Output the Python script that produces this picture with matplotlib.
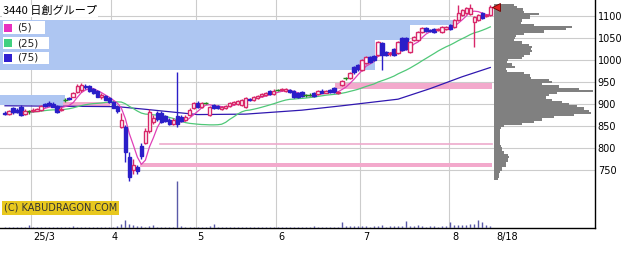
import matplotlib
matplotlib.use('Agg')
import matplotlib.pyplot as plt
from matplotlib.patches import Rectangle
import numpy as np
import pandas as pd

title = "3440 日創グループ"
copyright_text = "(C) KABUDRAGON.COM"

# daily candles, late Feb 2025 .. 8/18
opens = [880, 877, 890, 887, 894, 877, 883, 884, 885, 887,
         899, 903, 901, 896, 886, 909, 913, 917, 927, 931,
         942, 940, 933, 929, 915, 919, 914, 905, 893, 848,
         848, 780, 750, 756, 805, 812, 838, 860, 880, 880,
         872, 864, 855, 873, 870, 864, 875, 891, 902, 893,
         902, 875, 898, 895, 889, 890, 896, 900, 900, 898,
         893, 911, 909, 914, 918, 920, 930, 923, 932, 932,
         930, 932, 930, 925, 927, 920, 921, 925, 923, 930,
         926, 932, 936, 925, 943, 958, 958, 984, 989, 978,
         993, 1007, 1010, 1011, 1038, 1018, 1013, 1025, 1016, 1050,
         1050, 1018, 1045, 1045, 1064, 1073, 1068, 1070, 1068, 1064,
         1070, 1080, 1075, 1091, 1102, 1107, 1105, 1086, 1091, 1107,
         1100, 1102]
highs = [884, 886, 894, 890, 898, 888, 887, 890, 892, 898,
         903, 906, 904, 898, 893, 913, 916, 927, 945, 948,
         946, 943, 936, 931, 926, 921, 916, 907, 897, 880,
         852, 790, 775, 762, 812, 846, 888, 875, 884, 884,
         875, 868, 868, 973, 874, 874, 890, 904, 906, 905,
         905, 896, 901, 897, 896, 898, 904, 907, 909, 911,
         916, 914, 918, 920, 924, 927, 932, 933, 935, 937,
         936, 935, 932, 927, 929, 923, 924, 927, 932, 933,
         932, 935, 938, 930, 955, 962, 972, 987, 992, 1002,
         1009, 1010, 1012, 1043, 1042, 1021, 1019, 1028, 1043, 1052,
         1053, 1043, 1054, 1066, 1075, 1076, 1070, 1072, 1073, 1077,
         1077, 1082, 1093, 1125, 1116, 1120, 1127, 1100, 1104, 1110,
         1104, 1125]
lows = [875, 875, 878, 879, 873, 874, 878, 881, 883, 884,
        893, 895, 893, 879, 883, 905, 908, 915, 925, 928,
        934, 928, 922, 915, 912, 908, 902, 890, 879, 845,
        768, 725, 740, 741, 775, 808, 835, 855, 862, 857,
        858, 852, 852, 848, 858, 861, 872, 889, 890, 891,
        899, 872, 889, 888, 887, 888, 894, 898, 898, 896,
        891, 906, 907, 912, 916, 918, 921, 921, 929, 930,
        928, 925, 914, 914, 915, 917, 918, 916, 921, 924,
        924, 925, 925, 923, 940, 954, 956, 968, 975, 975,
        990, 994, 998, 1008, 977, 1010, 1010, 1010, 1014, 1020,
        1023, 1016, 1043, 1043, 1061, 1064, 1064, 1062, 1066, 1062,
        1068, 1068, 1073, 1089, 1100, 1105, 1103, 1030, 1089, 1094,
        1098, 1100]
closes = [878, 883, 881, 882, 876, 885, 883, 887, 889, 896,
          896, 897, 894, 882, 889, 909, 911, 925, 940, 943,
          938, 930, 925, 917, 921, 910, 904, 892, 884, 864,
          790, 733, 762, 747, 782, 838, 882, 868, 866, 860,
          862, 855, 864, 855, 862, 871, 887, 902, 893, 902,
          902, 893, 891, 891, 893, 895, 902, 904, 906, 909,
          914, 909, 916, 918, 922, 925, 923, 930, 932, 934,
          933, 928, 916, 916, 918, 920, 921, 918, 930, 926,
          930, 927, 927, 928, 952, 958, 970, 972, 980, 1000,
          1007, 996, 1000, 1041, 1012, 1012, 1016, 1012, 1041, 1023,
          1025, 1041, 1052, 1064, 1073, 1066, 1066, 1064, 1071, 1075,
          1075, 1070, 1091, 1107, 1114, 1118, 1118, 1098, 1102, 1096,
          1102, 1120]
volumes = [2, 2, 3, 2, 2, 3, 6, 2, 2, 2,
           2, 2, 2, 2, 3, 2, 3, 4, 3, 2,
           2, 2, 3, 2, 2, 3, 2, 3, 5, 8,
           18, 9, 7, 4, 4, 3, 4, 7, 3, 2,
           3, 2, 3, 100, 4, 3, 2, 3, 2, 2,
           3, 4, 9, 3, 2, 2, 2, 2, 2, 3,
           2, 2, 2, 2, 2, 2, 2, 2, 2, 2,
           2, 2, 2, 2, 2, 2, 3, 4, 3, 3,
           2, 2, 3, 3, 13, 5, 5, 5, 4, 5,
           4, 3, 5, 4, 7, 3, 4, 5, 5, 4,
           15, 5, 4, 6, 4, 3, 4, 4, 3, 5,
           4, 12, 7, 7, 7, 6, 8, 9, 17, 12,
           6, 4]

# 75-day average
ma75_idx = [0, 28, 35, 48, 60, 74, 84, 98, 106, 114, 121]
ma75_val = [896, 894, 888, 876, 877, 886, 896, 911, 935, 962, 983]

# price-by-volume profile, top bin 1125, 5 yen steps
prof_widths = [20, 23, 29, 30, 45, 36, 36, 28, 27, 40,
               78, 72, 50, 30, 22, 21, 20, 28, 35, 38,
               37, 38, 36, 30, 28, 14, 13, 18, 21, 12,
               13, 30, 36, 37, 55, 58, 48, 65, 85, 99,
               63, 55, 52, 58, 68, 75, 83, 90, 95, 97,
               80, 60, 48, 40, 28, 10, 7, 6, 6, 6,
               6, 6, 6, 6, 7, 8, 8, 10, 14, 15,
               14, 14, 12, 12, 8, 8, 6, 5, 5, 4]

# zones (index range, price range)
blue_zone_edges = [-1.5, 92.3, 101.0, 112.0]
blue_zone_bottom = [977, 1045, 1080]
blue_zone_top = 1091
blue_left = (-1.5, 15.0, 898, 920)
pink_zones = [(14.5, 26.2, 893, 905), (82.3, 121.3, 935, 947), (33.7, 121.3, 757, 766)]
pink_line = (38.7, 121.3, 809)

month_grid = [6.4, 26.4, 47.5, 67.6, 88.6, 110.6]
label_pos = [9.7, 27.4, 48.6, 68.8, 90.0, 112.2, 125.2]
label_txt = ['25/3', '4', '5', '6', '7', '8', '8/18']
price_ticks = [750, 800, 850, 900, 950, 1000, 1050, 1100]

UP = '#d8286a'
DOWN = '#2a1ec8'
DOJI = '#1f8a1f'

n = len(closes)
xs = np.arange(n)
cs = pd.Series(closes)
ma5 = cs.rolling(5, min_periods=1).mean()
ma25 = cs.rolling(25, min_periods=1).mean()

W, H = 640, 254
fig = plt.figure(figsize=(6.4, 2.54), dpi=100)
rect = [0, 1 - 228 / H, 595 / W, 228 / H]
ax = fig.add_axes(rect)
xlim = (-1.25, 147.1)
ax.set_xlim(*xlim)
ax.set_ylim(618.2, 1136.4)
ax.set_axisbelow(True)

for s in ['left', 'top']:
    ax.spines[s].set_visible(False)
for s in ['right', 'bottom']:
    ax.spines[s].set_color('black')
    ax.spines[s].set_linewidth(1.0)

ax.yaxis.tick_right()
ax.set_yticks(price_ticks)
ax.set_yticklabels([str(p) for p in price_ticks], fontsize=7)
ax.tick_params(axis='y', length=0, pad=2)
ax.set_xticks(month_grid)
ax.set_xticklabels([])
ax.set_xticks(label_pos, minor=True)
ax.set_xticklabels(label_txt, minor=True, fontsize=7)
ax.tick_params(axis='x', which='both', length=0, pad=3)
ax.grid(True, which='major', color='#cccccc', lw=0.8)

# zones
ax.fill_between(blue_zone_edges, blue_zone_bottom + [blue_zone_bottom[-1]], blue_zone_top,
                step='post', color='#aec6f2', lw=0, zorder=1)
x0, x1, y0, y1 = blue_left
ax.add_patch(Rectangle((x0, y0), x1 - x0, y1 - y0, color='#aec6f2', lw=0, zorder=1))
for x0, x1, y0, y1 in pink_zones:
    ax.add_patch(Rectangle((x0, y0), x1 - x0, y1 - y0, color='#f3a9cc', lw=0, zorder=1))
ax.plot([pink_line[0], pink_line[1]], [pink_line[2]] * 2, color='#eeaacc', lw=1.2, zorder=1)

# moving averages
ax.plot(ma75_idx, ma75_val, color='#3018b0', lw=0.9, zorder=3)
ax.plot(xs, ma25, color='#50c878', lw=0.9, zorder=3)
ax.plot(xs, ma5, color='#e040b8', lw=0.9, zorder=3)

# candles
bw = 0.85
for i in range(n):
    o, h, l, c = opens[i], highs[i], lows[i], closes[i]
    if c > o:
        ax.vlines(i, l, h, color=UP, lw=1.0, zorder=4)
        ax.add_patch(Rectangle((i - bw / 2, o), bw, c - o, facecolor='white',
                               edgecolor=UP, lw=1.0, zorder=5))
    elif c < o:
        ax.vlines(i, l, h, color=DOWN, lw=1.0, zorder=4)
        ax.add_patch(Rectangle((i - bw / 2, c), bw, o - c, facecolor=DOWN,
                               edgecolor=DOWN, lw=1.0, zorder=5))
    else:
        ax.vlines(i, l, h, color=DOJI, lw=1.0, zorder=4)
        ax.hlines(c, i - bw / 2 - 0.2, i + bw / 2 + 0.2, color=DOJI, lw=1.0, zorder=5)

# volume profile (widths in pixels)
unit = (xlim[1] - xlim[0]) / 595
prof_prices = 1125 - 5 * np.arange(len(prof_widths))
ax.barh(prof_prices, np.array(prof_widths) * unit, left=122.0, height=5,
        color='#808080', lw=0, zorder=2)

# current price marker
ax.plot(122.3, closes[-1], marker='<', color='#e02020', mec='#700000', mew=0.6,
        ms=6, zorder=7, clip_on=False)

# volume bars
axv = fig.add_axes(rect)
axv.set_xlim(*xlim)
axv.set_ylim(0, 100 * 228 / 47)
axv.axis('off')
axv.vlines(xs, 0, volumes, color='#5a5aa8', lw=1.0)

# title, legend, copyright
fig.text(3 / W, 1 - 11 / H, title, fontsize=8, va='center', ha='left',
         family=['Noto Sans CJK JP', 'DejaVu Sans'],
         bbox=dict(facecolor='white', edgecolor='none', pad=1.0))
legend_items = [('(5)', '#e830c0', 27.5, 42), ('(25)', '#40d080', 43, 46), ('(75)', '#3020d0', 58, 46)]
for txt, col, yc, wbox in legend_items:
    fig.add_artist(Rectangle((3 / W, 1 - (yc + 6) / H), wbox / W, 12 / H,
                             transform=fig.transFigure, facecolor='white', edgecolor='none'))
    fig.add_artist(Rectangle((4 / W, 1 - (yc + 4) / H), 8 / W, 8 / H,
                             transform=fig.transFigure, facecolor=col, edgecolor='none'))
    fig.text(17 / W, 1 - yc / H, txt, fontsize=7.5, va='center', ha='left', color='#222222')

fig.text(4 / W, 1 - 208 / H, copyright_text, fontsize=7, va='center', ha='left',
         color='#333333', bbox=dict(facecolor='#e8c81e', edgecolor='none', pad=1.5))

plt.savefig('out.png', dpi=100)
